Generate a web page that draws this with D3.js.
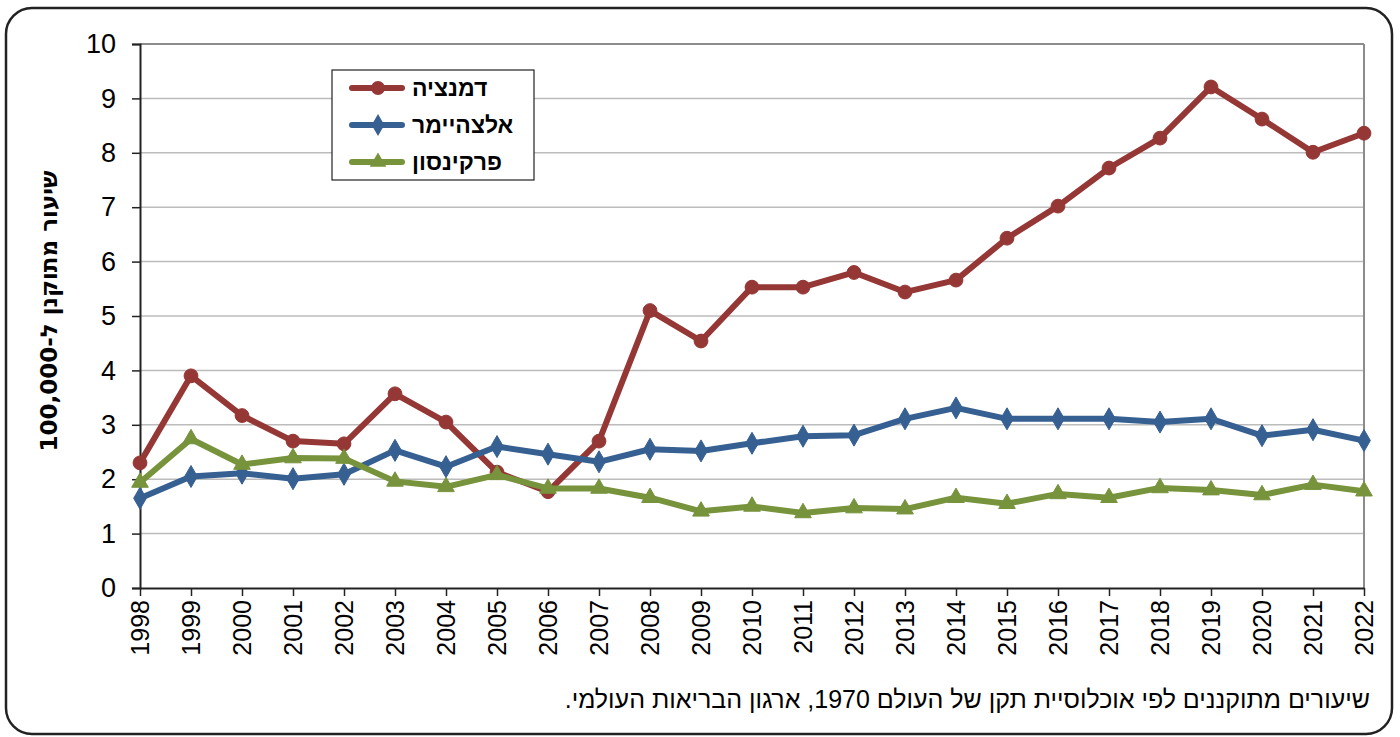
<!DOCTYPE html>
<html>
<head>
<meta charset="utf-8">
<script src="https://cdn.jsdelivr.net/npm/d3@7"></script>
<style>
  body { margin: 0; background: #fff; }
  svg { display: block; font-family: "Liberation Sans", Arial, sans-serif; }
</style>
</head>
<body>
<div id="chart"></div>
<script>
// data
const years = ["1998","1999","2000","2001","2002","2003","2004","2005","2006","2007","2008","2009",
  "2010","2011","2012","2013","2014","2015","2016","2017","2018","2019","2020","2021","2022"];
const dementia = [2.3, 3.9, 3.17, 2.7, 2.65, 3.57, 3.05, 2.13, 1.77, 2.7, 5.1, 4.54,
  5.53, 5.53, 5.8, 5.44, 5.66, 6.43, 7.02, 7.72, 8.27, 9.21, 8.62, 8.01, 8.36];
const alzheimer = [1.65, 2.05, 2.11, 2.01, 2.09, 2.53, 2.23, 2.6, 2.46, 2.32, 2.55, 2.52,
  2.66, 2.79, 2.81, 3.11, 3.31, 3.11, 3.11, 3.11, 3.05, 3.11, 2.8, 2.91, 2.71];
const parkinson = [1.94, 2.74, 2.27, 2.39, 2.38, 1.96, 1.86, 2.08, 1.83, 1.83, 1.66, 1.41,
  1.5, 1.38, 1.47, 1.45, 1.66, 1.55, 1.73, 1.66, 1.84, 1.8, 1.71, 1.9, 1.78];
const seriesNames = ["דמנציה", "אלצהיימר", "פרקינסון"];
const yTicks = [0, 1, 2, 3, 4, 5, 6, 7, 8, 9, 10];
const yTitle = "שיעור מתוקנן ל-100,000";
const footnote = "שיעורים מתוקננים לפי אוכלוסיית תקן של העולם 1970, ארגון הבריאות העולמי.";

const series = [
  { name: seriesNames[0], values: dementia, color: "#953735", symbol: d3.symbolCircle, size: 150 },
  { name: seriesNames[1], values: alzheimer, color: "#376092", symbol: d3.symbolDiamond, size: 140 },
  { name: seriesNames[2], values: parkinson, color: "#77933c", symbol: d3.symbolTriangle, size: 120 }
];

// canvas
const width = 1400;
const height = 737;
const plot = { left: 140, right: 1364, top: 44, bottom: 588 };

const svg = d3.select("#chart").append("svg")
  .attr("width", width)
  .attr("height", height);

// outer rounded frame
svg.append("rect")
  .attr("x", 6).attr("y", 8)
  .attr("width", 1386).attr("height", 726)
  .attr("rx", 26).attr("ry", 26)
  .attr("fill", "#fff")
  .attr("stroke", "#222")
  .attr("stroke-width", 2.5);

// scales
const x = d3.scalePoint().domain(years).range([plot.left, plot.right]);
const y = d3.scaleLinear().domain([0, 10]).range([plot.bottom, plot.top]);

// gridlines
svg.append("g")
  .selectAll("line")
  .data(yTicks.filter(d => d > 0))
  .enter().append("line")
  .attr("x1", plot.left).attr("x2", plot.right)
  .attr("y1", d => y(d)).attr("y2", d => y(d))
  .attr("stroke", d => d === 10 ? "#8c8c8c" : "#bcbcbc")
  .attr("stroke-width", d => d === 10 ? 2 : 1.5);

// right border of plot area
svg.append("line")
  .attr("x1", plot.right).attr("x2", plot.right)
  .attr("y1", plot.top).attr("y2", plot.bottom)
  .attr("stroke", "#8c8c8c").attr("stroke-width", 2);

// y axis
const yAxis = svg.append("g")
  .attr("transform", `translate(${plot.left},0)`)
  .call(d3.axisLeft(y).tickValues(yTicks).tickSize(8).tickPadding(16).tickFormat(d3.format("d")));
yAxis.select(".domain").attr("stroke", "#222").attr("stroke-width", 2);
yAxis.selectAll(".tick line").attr("stroke", "#222").attr("stroke-width", 1.5);
yAxis.selectAll("text").attr("font-size", 27).attr("fill", "#000")
  .attr("font-family", "Liberation Sans, Arial, sans-serif");

// x axis
const xAxis = svg.append("g")
  .attr("transform", `translate(0,${plot.bottom})`)
  .call(d3.axisBottom(x).tickSize(8).tickSizeOuter(0));
xAxis.select(".domain").attr("stroke", "#222").attr("stroke-width", 2);
xAxis.selectAll(".tick line").attr("stroke", "#222").attr("stroke-width", 1.5);
xAxis.selectAll("text")
  .attr("font-size", 25)
  .attr("fill", "#000")
  .attr("font-family", "Liberation Sans, Arial, sans-serif")
  .attr("transform", "rotate(-90)")
  .attr("text-anchor", "end")
  .attr("x", -12)
  .attr("y", 0)
  .attr("dy", "0.35em");

// y axis title
svg.append("text")
  .attr("transform", "translate(50,311) rotate(-90)")
  .attr("text-anchor", "middle")
  .attr("dominant-baseline", "middle")
  .attr("font-size", 23)
  .attr("font-weight", "bold")
  .attr("font-family", "DejaVu Sans, sans-serif")
  .attr("direction", "rtl")
  .text(yTitle);

// lines and markers
const line = d3.line()
  .x((d, i) => x(years[i]))
  .y(d => y(d));

series.forEach(s => {
  svg.append("path")
    .datum(s.values)
    .attr("d", line)
    .attr("fill", "none")
    .attr("stroke", s.color)
    .attr("stroke-width", 6)
    .attr("stroke-linejoin", "round");

  svg.append("g")
    .selectAll("path")
    .data(s.values)
    .enter().append("path")
    .attr("transform", (d, i) => `translate(${x(years[i])},${y(d)})`)
    .attr("d", d3.symbol().type(s.symbol).size(s.size))
    .attr("fill", s.color)
    .attr("stroke", s.color)
    .attr("stroke-width", 1);
});

// legend
const legend = svg.append("g");
legend.append("rect")
  .attr("x", 332).attr("y", 70)
  .attr("width", 202).attr("height", 110)
  .attr("fill", "#fff")
  .attr("stroke", "#222")
  .attr("stroke-width", 1.2);

const legendItem = legend.selectAll(".legend-item")
  .data(series)
  .enter().append("g")
  .attr("class", "legend-item")
  .attr("transform", (d, i) => `translate(0,${88 + i * 37})`);

legendItem.append("line")
  .attr("x1", 352).attr("x2", 402)
  .attr("stroke", d => d.color)
  .attr("stroke-width", 6)
  .attr("stroke-linecap", "round");

legendItem.append("path")
  .attr("transform", "translate(378,0)")
  .attr("d", d => d3.symbol().type(d.symbol).size(d.size)())
  .attr("fill", d => d.color);

legendItem.append("text")
  .attr("x", 412)
  .attr("dy", "0.36em")
  .attr("text-anchor", "start")
  .attr("font-size", 23)
  .attr("font-weight", "bold")
  .text(d => d.name);

// footnote
svg.append("text")
  .attr("x", 1370).attr("y", 708)
  .attr("direction", "rtl")
  .attr("text-anchor", "start")
  .attr("font-size", 25)
  .attr("font-family", "Liberation Sans, Arial, sans-serif")
  .text(footnote);
</script>
</body>
</html>
